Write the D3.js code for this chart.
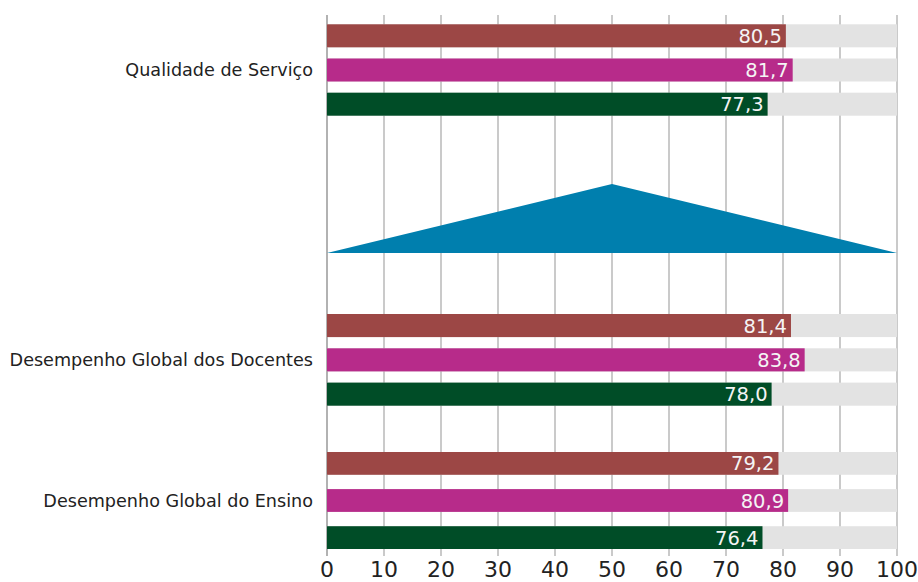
<!DOCTYPE html>
<html>
<head>
<meta charset="utf-8">
<script src="https://cdn.jsdelivr.net/npm/d3@7"></script>
<style>
  body { margin: 0; background: #fff; }
  svg { display: block; font-family: "DejaVu Sans", sans-serif; }
</style>
</head>
<body>
<div id="chart"></div>
<script>
// data
const categories = ['Qualidade de Serviço', '', 'Desempenho Global dos Docentes', 'Desempenho Global do Ensino'];
const series = ['s1', 's2', 's3'];
const colors = ['#9c4745', '#b72b8a', '#004d27'];
const values = [
  [80.5, 81.7, 77.3],
  null,
  [81.4, 83.8, 78.0],
  [79.2, 80.9, 76.4]
];
const triangle = [[0, 0], [50, 1], [100, 0]];
const ticks = [0, 10, 20, 30, 40, 50, 60, 70, 80, 90, 100];

const width = 918, height = 582;
const svg = d3.select('#chart').append('svg')
  .attr('width', width)
  .attr('height', height);

const x = d3.scaleLinear().domain([0, 100]).range([327, 897]);

// vertical slots of each category (layout)
const slots = [[24.3, 115.7], [184, 253], [314, 405.7], [452, 549]];

const locale = d3.formatLocale({decimal: ',', thousands: '.', grouping: [3], currency: ['', '€']});
const fmt = locale.format('.1f');

// grid
svg.append('g').selectAll('line')
  .data(ticks)
  .join('line')
  .attr('x1', d => x(d)).attr('x2', d => x(d))
  .attr('y1', 15).attr('y2', 556)
  .attr('stroke', d => d === 0 ? '#999' : '#b8b8b8')
  .attr('stroke-width', 1.5);

// axis labels
svg.append('g').selectAll('text')
  .data(ticks)
  .join('text')
  .attr('x', d => x(d))
  .attr('y', 577)
  .attr('text-anchor', 'middle')
  .attr('fill', '#222')
  .attr('font-size', 22)
  .text(d => d);

categories.forEach((cat, i) => {
  const [top, bottom] = slots[i];
  if (values[i]) {
    const step = i === 3 ? 0.386 : 0.327;
    const y = d3.scaleBand().domain(series).range([top, bottom]).paddingInner(step).paddingOuter(0);
    const g = svg.append('g');
    g.selectAll('rect.bg')
      .data(values[i])
      .join('rect')
      .attr('class', 'bg')
      .attr('x', x(0))
      .attr('width', x(100) - x(0))
      .attr('y', (d, j) => y(series[j]))
      .attr('height', y.bandwidth())
      .attr('fill', '#e3e3e3');
    g.selectAll('rect.bar')
      .data(values[i])
      .join('rect')
      .attr('class', 'bar')
      .attr('x', x(0))
      .attr('width', d => x(d) - x(0))
      .attr('y', (d, j) => y(series[j]))
      .attr('height', y.bandwidth())
      .attr('fill', (d, j) => colors[j]);
    g.selectAll('text')
      .data(values[i])
      .join('text')
      .attr('x', d => x(d) - 4)
      .attr('y', (d, j) => y(series[j]) + y.bandwidth() / 2)
      .attr('dy', '0.36em')
      .attr('text-anchor', 'end')
      .attr('fill', '#f4f4f4')
      .attr('font-size', 19.5)
      .text(d => fmt(d));
  } else {
    const h = d3.scaleLinear().domain([0, 1]).range([bottom, top]);
    svg.append('path')
      .datum(triangle)
      .attr('d', d3.line().x(d => x(d[0])).y(d => h(d[1])).curve(d3.curveLinearClosed))
      .attr('fill', '#007fae');
  }
  if (cat) {
    svg.append('text')
      .attr('x', 313)
      .attr('y', (top + bottom) / 2)
      .attr('dy', '0.36em')
      .attr('text-anchor', 'end')
      .attr('fill', '#222')
      .attr('font-size', 17.6)
      .text(cat);
  }
});
</script>
</body>
</html>
